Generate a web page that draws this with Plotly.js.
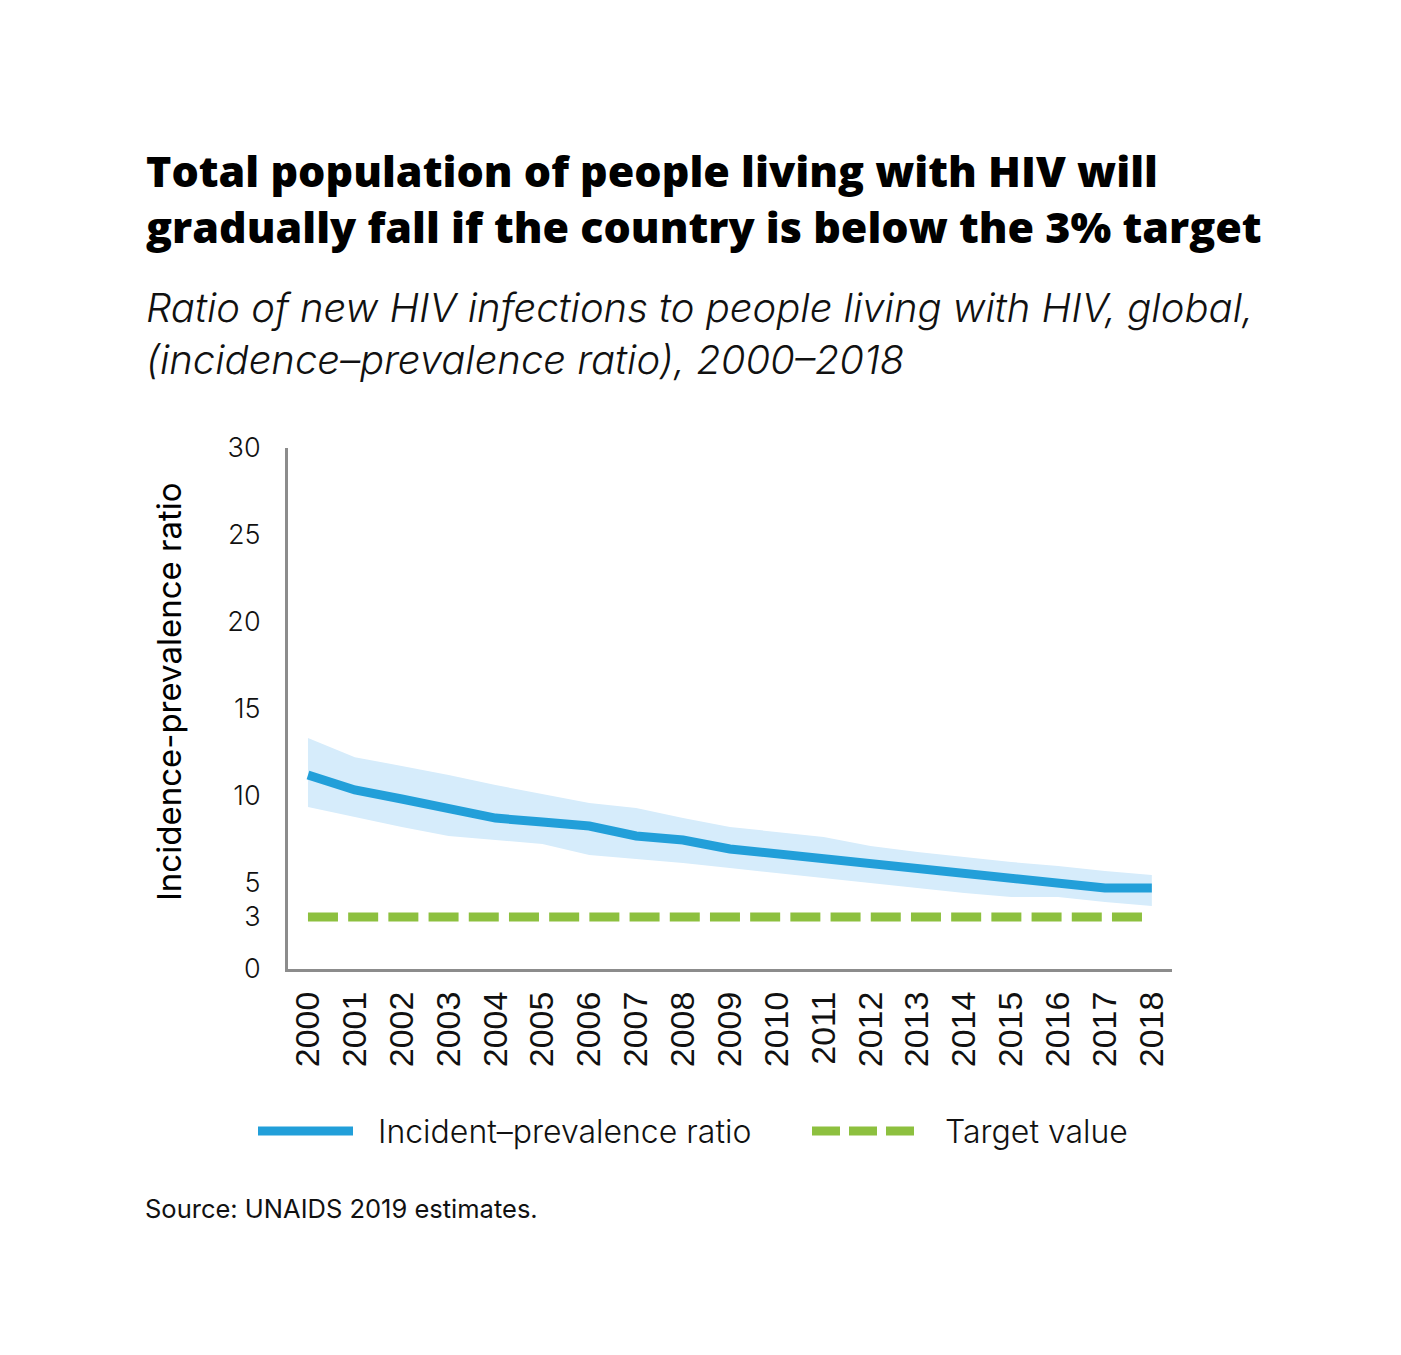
<!DOCTYPE html>
<html>
<head>
<meta charset="utf-8">
<script src="https://cdn.plot.ly/plotly-3.0.1.min.js"></script>
<style>
html,body{margin:0;padding:0;background:#fff;}
#chart{width:1401px;height:1355px;}
</style>
</head>
<body>
<div id="chart"></div>
<script>
const years = [2000,2001,2002,2003,2004,2005,2006,2007,2008,2009,2010,2011,2012,2013,2014,2015,2016,2017,2018];
const ratio = [11.17,10.31,9.79,9.27,8.69,8.46,8.23,7.66,7.43,6.91,6.62,6.33,6.10,5.81,5.53,5.24,4.95,4.66,4.66];
const upper = [13.30,12.20,11.69,11.17,10.59,10.07,9.56,9.27,8.69,8.18,7.89,7.60,7.08,6.74,6.45,6.16,5.93,5.64,5.41];
const lower = [9.33,8.75,8.18,7.66,7.43,7.20,6.56,6.33,6.10,5.81,5.53,5.24,4.95,4.66,4.38,4.15,4.15,3.86,3.63];
const target = years.map(() => 3);
const yTicks = [0,3,5,10,15,20,25,30];

const titleLines = ["Total population of people living with HIV will", "gradually fall if the country is below the 3% target"];
const subtitleLines = ["Ratio of new HIV infections to people living with HIV, global,", "(incidence–prevalence ratio), 2000–2018"];
const yTitle = "Incidence-prevalence ratio";
const legendLabels = ["Incident–prevalence ratio", "Target value"];
const sourceText = "Source: UNAIDS 2019 estimates.";

const BLUE = '#229fd9', BAND = '#d6ecfb', GREEN = '#8dc03f', AXIS = '#8c8c8c';

// plot area in pixels
const L = 288, R = 1172, T = 448, B = 969;
const px = x => (x - L) / (R - L);
const py = y => (B - y) / (B - T);

const traces = [
  {x: years, y: lower, type: 'scatter', mode: 'lines', line: {width: 0, color: BAND}, hoverinfo: 'skip', showlegend: false},
  {x: years, y: upper, type: 'scatter', mode: 'lines', line: {width: 0, color: BAND}, fill: 'tonexty', fillcolor: BAND, hoverinfo: 'skip', showlegend: false},
  {x: years, y: target, type: 'scatter', mode: 'lines', line: {width: 9, color: GREEN, dash: '30px,10.2px'}, showlegend: false},
  {x: years, y: ratio, type: 'scatter', mode: 'lines', line: {width: 9, color: BLUE}, showlegend: false}
];

const FT = '"Open Sans", "Noto Sans", sans-serif';
const F = 'Inter, "Open Sans", sans-serif';

const annotations = [
  {text: titleLines.join('<br>'), x: px(144), y: py(198), xanchor: 'left', yanchor: 'middle', align: 'left', font: {family: FT, size: 43, color: '#000', weight: 800}},
  {text: subtitleLines.map(s => '<i>' + s + '</i>').join('<br>'), x: px(144), y: py(333), xanchor: 'left', yanchor: 'middle', align: 'left', font: {family: F, size: 40, color: '#111', weight: 300}},
  {text: yTitle, x: px(169), y: py(692), xanchor: 'center', yanchor: 'middle', textangle: -90, font: {family: F, size: 33, color: '#000'}},
  {text: legendLabels[0], x: px(376), y: py(1131), xanchor: 'left', yanchor: 'middle', font: {family: F, size: 32, color: '#111', weight: 300}},
  {text: legendLabels[1], x: px(943), y: py(1131), xanchor: 'left', yanchor: 'middle', font: {family: F, size: 32, color: '#111', weight: 300}},
  {text: sourceText, x: px(143), y: py(1208), xanchor: 'left', yanchor: 'middle', font: {family: F, size: 25.5, color: '#111'}}
].map(a => Object.assign({xref: 'paper', yref: 'paper', showarrow: false}, a));

const shapes = [
  {type: 'line', xref: 'paper', yref: 'paper', x0: px(258), x1: px(353), y0: py(1131), y1: py(1131), line: {color: BLUE, width: 9}},
  {type: 'line', xref: 'paper', yref: 'paper', x0: px(812), x1: px(915), y0: py(1131), y1: py(1131), line: {color: GREEN, width: 9, dash: '28px,9px'}}
];

const layout = {
  width: 1401, height: 1355,
  margin: {l: L, r: 1401 - R, t: T, b: 1355 - B, pad: 0},
  paper_bgcolor: '#fff', plot_bgcolor: '#fff',
  showlegend: false,
  xaxis: {
    range: [1999.574, 2018.43], tickvals: years, ticktext: years.map(String),
    tickangle: -90, showgrid: false, zeroline: false, showline: true,
    linecolor: AXIS, linewidth: 3, ticks: '', ticklabelstandoff: 6,
    tickfont: {family: '"Liberation Sans", Arial, sans-serif', size: 34, color: '#111'}
  },
  yaxis: {
    range: [0, 30], tickvals: yTicks, ticktext: yTicks.map(String),
    showgrid: false, zeroline: false, showline: true,
    linecolor: AXIS, linewidth: 3, ticks: '', ticklabelstandoff: 19,
    tickfont: {family: F, size: 27, color: '#111', weight: 300}
  },
  annotations: annotations,
  shapes: shapes
};

Plotly.newPlot('chart', traces, layout, {displayModeBar: false, staticPlot: true});
</script>
</body>
</html>
